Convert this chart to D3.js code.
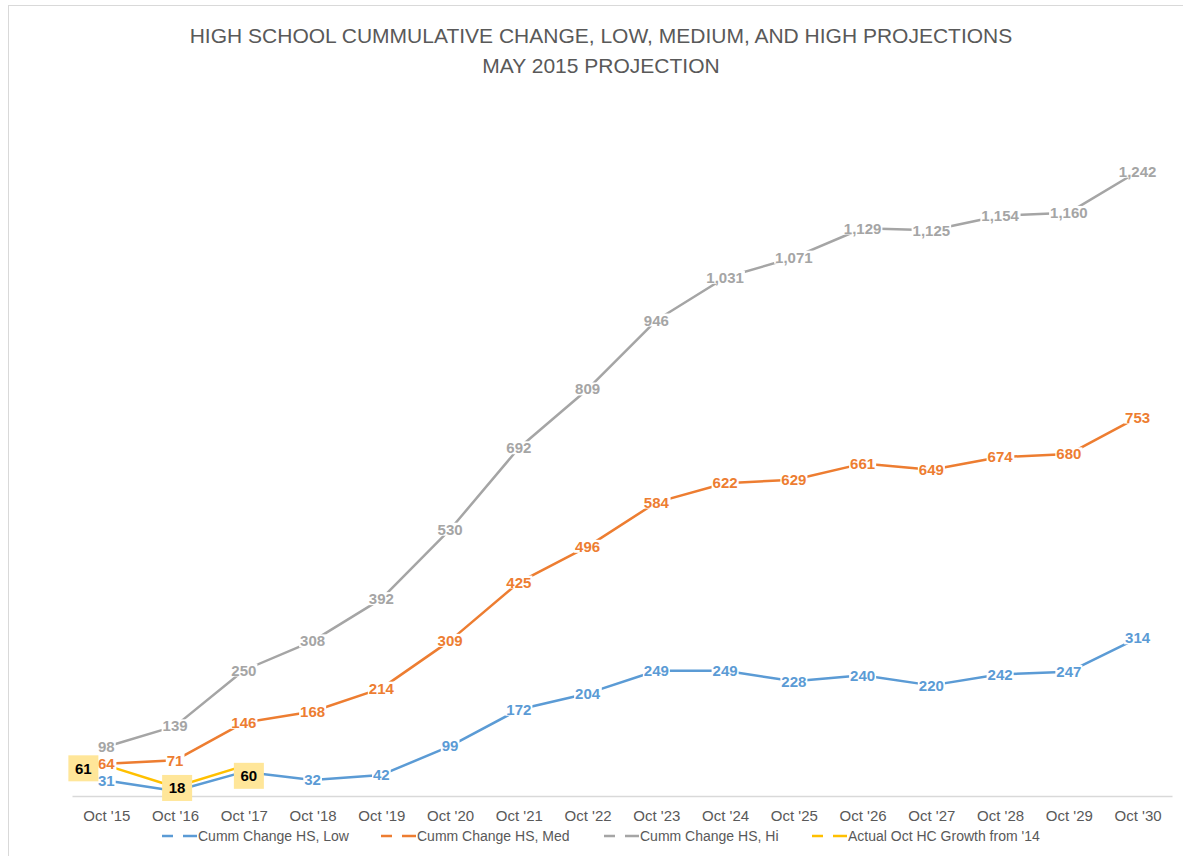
<!DOCTYPE html>
<html>
<head>
<meta charset="utf-8">
<script src="https://cdn.jsdelivr.net/npm/d3@7"></script>
<style>
  body { margin: 0; background: #fff; }
  svg { display: block; font-family: "Liberation Sans", Arial, sans-serif; }
</style>
</head>
<body>
<script>
// données du graphique
const categories = ["Oct '15", "Oct '16", "Oct '17", "Oct '18", "Oct '19", "Oct '20", "Oct '21", "Oct '22",
  "Oct '23", "Oct '24", "Oct '25", "Oct '26", "Oct '27", "Oct '28", "Oct '29", "Oct '30"];
const lowValues = [31, 10, 48, 32, 42, 99, 172, 204, 249, 249, 228, 240, 220, 242, 247, 314];
const medValues = [64, 71, 146, 168, 214, 309, 425, 496, 584, 622, 629, 661, 649, 674, 680, 753];
const hiValues = [98, 139, 250, 308, 392, 530, 692, 809, 946, 1031, 1071, 1129, 1125, 1154, 1160, 1242];
const actualValues = [61, 18, 60];
const seriesNames = ["Cumm Change HS, Low", "Cumm Change HS, Med", "Cumm Change HS, Hi", "Actual Oct HC Growth from '14"];
const titleLines = ["HIGH SCHOOL CUMMULATIVE CHANGE, LOW, MEDIUM, AND HIGH PROJECTIONS", "MAY 2015 PROJECTION"];

const width = 1183, height = 856;
const colors = ["#5B9BD5", "#ED7D31", "#A5A5A5", "#FFC000"];

const series = [lowValues, medValues, hiValues, actualValues].map((vals, i) => ({
  name: seriesNames[i],
  color: colors[i],
  points: vals.map((v, j) => ({ cat: categories[j], value: v }))
}));

const svg = d3.select("body").append("svg")
  .attr("width", width)
  .attr("height", height);

// cadre du graphique
svg.append("rect")
  .attr("x", 8.5).attr("y", 5.5)
  .attr("width", width).attr("height", height)
  .attr("fill", "none")
  .attr("stroke", "#D9D9D9");

const x = d3.scalePoint()
  .domain(categories)
  .range([72, 1172])
  .padding(0.5);

const y = d3.scaleLinear()
  .domain([0, 1400])
  .range([796, 92]);

// titre
svg.append("g").selectAll("text")
  .data(titleLines)
  .enter()
  .append("text")
  .attr("x", 601)
  .attr("y", (d, i) => 43 + i * 30)
  .attr("text-anchor", "middle")
  .style("font-family", "'Liberation Sans Narrow', 'Liberation Sans', sans-serif")
  .style("font-size", "21px")
  .style("fill", "#595959")
  .text(d => d);

// axe des x
const xAxis = svg.append("g")
  .attr("transform", `translate(0,${y(0)})`)
  .call(d3.axisBottom(x).tickSize(0).tickPadding(14));
xAxis.select(".domain").attr("stroke", "#D9D9D9").attr("stroke-width", 1.5);
xAxis.selectAll("text")
  .style("font-family", "'Liberation Sans', sans-serif")
  .style("font-size", "15px")
  .style("fill", "#595959");

// lignes
const line = d3.line()
  .x(d => x(d.cat))
  .y(d => y(d.value));

svg.append("g").selectAll("path")
  .data(series)
  .enter()
  .append("path")
  .attr("d", d => line(d.points))
  .attr("fill", "none")
  .attr("stroke", d => d.color)
  .attr("stroke-width", 2.5)
  .attr("stroke-linejoin", "round");

// étiquettes des données (fond blanc comme Excel)
// les étiquettes "Low" cachées sous les boîtes jaunes ne sont pas dessinées
const labelsG = svg.append("g");
series.slice(0, 3).forEach((s, si) => {
  s.points.forEach((p, j) => {
    if (si === 0 && j > 0 && j < actualValues.length) return;
    const g = labelsG.append("g")
      .attr("transform", `translate(${x(p.cat)},${y(p.value)})`);
    const t = g.append("text")
      .attr("text-anchor", "middle")
      .attr("dy", "0.35em")
      .style("font-size", "15px")
      .style("font-weight", "bold")
      .style("fill", s.color)
      .text(d3.format(",")(p.value));
    const bb = t.node().getBBox();
    g.insert("rect", "text")
      .attr("x", bb.x - 1).attr("y", bb.y + 2)
      .attr("width", bb.width + 2).attr("height", bb.height - 4)
      .attr("fill", "#fff");
  });
});

// étiquettes de la série réelle (boîtes jaunes)
const actualOffsets = [[-23, 3], [2, 1], [5, 10]];
series[3].points.forEach((p, i) => {
  const g = labelsG.append("g")
    .attr("transform", `translate(${x(p.cat) + actualOffsets[i][0]},${y(p.value) + actualOffsets[i][1]})`);
  g.append("rect")
    .attr("x", -15).attr("y", -13)
    .attr("width", 30).attr("height", 26)
    .attr("fill", "#FFE699");
  g.append("text")
    .attr("text-anchor", "middle")
    .attr("dy", "0.35em")
    .style("font-size", "15px")
    .style("font-weight", "bold")
    .style("fill", "#000")
    .text(p.value);
});

// légende
const legendX = [162, 381, 604, 812];
const legend = svg.append("g").selectAll("g")
  .data(series)
  .enter()
  .append("g")
  .attr("transform", (d, i) => `translate(${legendX[i]},836)`);
legend.append("line")
  .attr("x1", 0).attr("x2", 35)
  .attr("stroke", d => d.color)
  .attr("stroke-width", 2.5)
  .attr("stroke-dasharray", "11,10,14");
legend.append("text")
  .attr("x", 36)
  .attr("dy", "0.35em")
  .style("font-size", "14px")
  .style("fill", "#595959")
  .text(d => d.name);
</script>
</body>
</html>
